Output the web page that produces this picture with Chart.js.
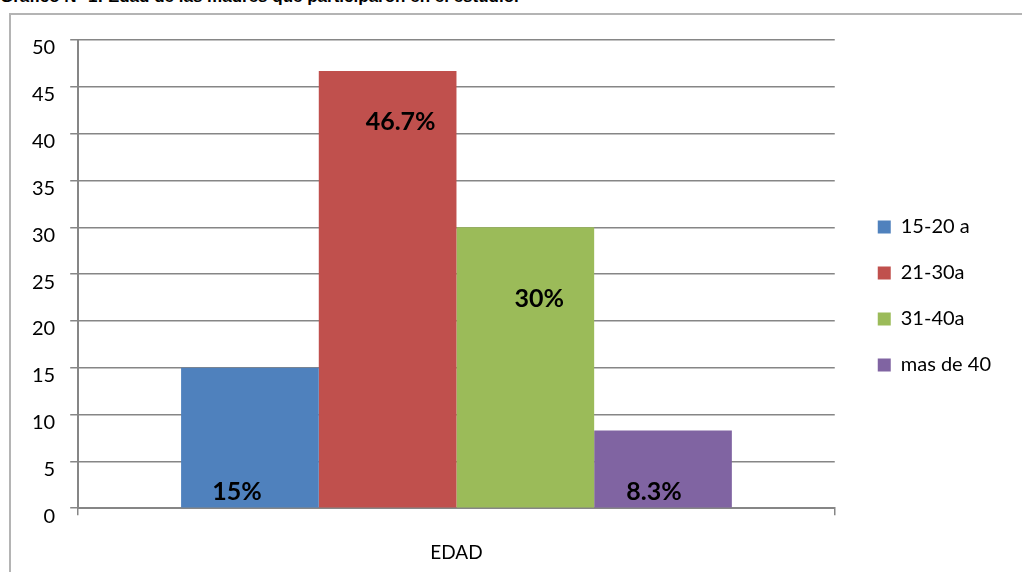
<!DOCTYPE html>
<html>
<head>
<meta charset="utf-8">
<script src="https://cdn.jsdelivr.net/npm/chart.js@4.4.1/dist/chart.umd.min.js"></script>
<style>
  html, body { margin: 0; padding: 0; background: #fff; overflow: hidden; }
  body { width: 1022px; height: 572px; position: relative; }
  #titulo {
    position: absolute; left: 0; top: -12px; white-space: nowrap;
    font: bold 17px "Liberation Sans", Arial, sans-serif; line-height: 17px; color: #000;
  }
  #marco {
    position: absolute; left: 9px; top: 13px; width: 1100px; height: 700px;
    border: 2px solid #b4b4b4;
  }
  /* el lienzo baja un poco por debajo de la ventana */
  #lienzo { position: absolute; left: 0; top: 0; width: 1022px; height: 590px; }
</style>
</head>
<body>
<div id="titulo">Gráfico N° 1: Edad de las madres que participaron en el estudio.</div>
<div id="marco"></div>
<div id="lienzo"><canvas id="grafico"></canvas></div>
<script>
// datos del gráfico
const categorias = ["EDAD"];
const grupos = ["15-20 a", "21-30a", "31-40a", "mas de 40"];
const valores = [15, 46.7, 30, 8.3];
const etiquetas = ["15%", "46.7%", "30%", "8.3%"];
const colores = ["#4F81BD", "#C0504D", "#9BBB59", "#8064A2"];

// donde va cada etiqueta (en unidades del eje y) y su corrimiento horizontal
const etiquetaEn = [1.7, 41.3, 22.4, 1.7];
const etiquetaDx = [-13, 13, 14, -9];

const GRIS = "#868686";
const FUENTE = "Lato, 'Open Sans', sans-serif";

// etiquetas dentro de las barras
const etiquetasBarras = {
  id: "etiquetasBarras",
  afterDatasetsDraw(chart) {
    const ctx = chart.ctx;
    const y = chart.scales.y;
    ctx.save();
    ctx.font = "bold 25px " + FUENTE;
    ctx.fillStyle = "#000";
    ctx.textAlign = "center";
    ctx.textBaseline = "middle";
    chart.data.datasets.forEach((ds, i) => {
      const barra = chart.getDatasetMeta(i).data[0];
      ctx.fillText(etiquetas[i], barra.x + etiquetaDx[i], y.getPixelForValue(etiquetaEn[i]));
    });
    ctx.restore();
  }
};

const ctx = document.getElementById("grafico").getContext("2d");

new Chart(ctx, {
  type: "bar",
  data: {
    labels: categorias,
    datasets: grupos.map((g, i) => ({
      label: g,
      data: [valores[i]],
      backgroundColor: colores[i],
      borderWidth: 0,
      categoryPercentage: 0.728,
      barPercentage: 1.0,
    })),
  },
  options: {
    responsive: true,
    maintainAspectRatio: false,
    animation: false,
    layout: {
      padding: { left: 17, top: 40, right: 21, bottom: 0 },
    },
    plugins: {
      title: { display: false },
      tooltip: { enabled: false },
      legend: {
        position: "right",
        align: "start",
        // título vacío: sólo sirve para bajar la leyenda
        title: { display: true, text: "", font: { size: 10 }, padding: { top: 139, bottom: 0 } },
        labels: {
          color: "#000",
          font: { family: FUENTE, size: 20 },
          boxWidth: 13,
          boxHeight: 13,
          padding: 26,
        },
      },
    },
    scales: {
      x: {
        offset: true,
        ticks: {
          color: "#000",
          font: { family: FUENTE, size: 19 },
          padding: 26,
        },
        grid: {
          display: true,
          offset: true,
          drawOnChartArea: false,
          color: GRIS,
          lineWidth: 1.5,
          tickLength: 7,
        },
        border: { color: GRIS, width: 2 },
      },
      y: {
        min: 0,
        max: 50,
        ticks: {
          stepSize: 5,
          color: "#000",
          font: { family: FUENTE, size: 20 },
          padding: 15,
          labelOffset: 8,
        },
        grid: {
          color: GRIS,
          lineWidth: 1.5,
          tickLength: 8,
        },
        border: { color: GRIS, width: 2 },
      },
      // eje vacío para dejar el hueco antes de la leyenda
      hueco: {
        type: "linear",
        position: "right",
        display: true,
        ticks: { display: false },
        grid: { display: false },
        border: { display: false },
        afterFit(scale) { scale.width = 17; },
      },
    },
  },
  plugins: [etiquetasBarras],
});
</script>
</body>
</html>
